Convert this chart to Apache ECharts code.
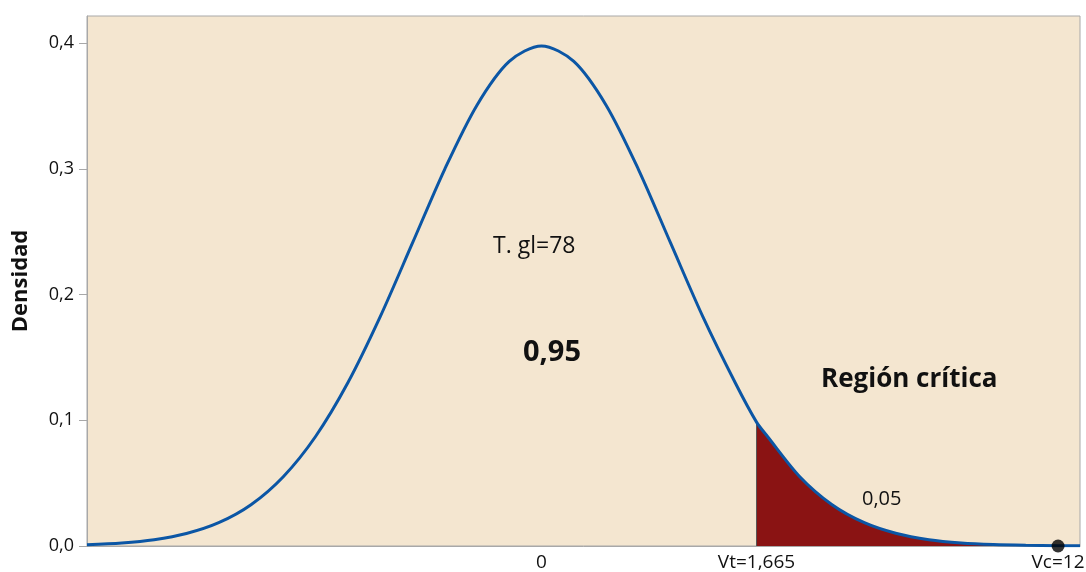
<!DOCTYPE html>
<html>
<head>
<meta charset="UTF-8">
<title>Densidad T gl=78</title>
<script src="https://cdn.jsdelivr.net/npm/echarts@6/dist/echarts.min.js"></script>
<style>
body,html{ padding:0px; margin:0px; background:#fff;}
#chart_box{ width:1086px; height:572px; }
</style>
</head>
<body>
<div id="chart_box"></div>
<script type="text/javascript">
// valores (x, densidad)
var xs = [-3.52, -3.25, -3.0, -2.75, -2.5, -2.25, -2.0, -1.75, -1.5, -1.25, -1.0, -0.75, -0.5, -0.25,
          0, 0.25, 0.5, 0.75, 1.0, 1.25, 1.5, 1.665, 1.75, 2.0, 2.25, 2.5, 2.75, 3.0, 3.25, 3.5, 3.75, 4.0, 4.17];
var dens = [0.0010, 0.0024, 0.0050, 0.0099, 0.0185, 0.0328, 0.0551, 0.0871, 0.1298, 0.1822, 0.2408, 0.2996, 0.3506, 0.3854,
            0.3977, 0.3854, 0.3506, 0.2996, 0.2408, 0.1822, 0.1298, 0.0985, 0.0871, 0.0551, 0.0328, 0.0185, 0.0099, 0.0050, 0.0024, 0.0011, 0.0005, 0.0002, 0.0001];
var vt = 1.665;
var vcPos = 4.0;   // posicion del punto Vc en el eje
var xTicks = [0, 1.665, 4.0];
var xTickLabels = ['0', 'Vt=1,665', 'Vc=12'];
var yTicks = [0, 0.1, 0.2, 0.3, 0.4];

var curve = [], shade = [];
for (var i = 0; i < xs.length; i++) {
    curve.push([xs[i], dens[i]]);
    if (xs[i] >= vt) shade.push([xs[i], dens[i]]);
}
var vtDens = dens[xs.indexOf(vt)];

var myChart = echarts.init(document.getElementById('chart_box'));
var font = '"Open Sans", "Noto Sans", sans-serif';

var option = {
    animation: false,
    textStyle: { fontFamily: font },
    grid: {
        left: 87, right: 6, top: 16, bottom: 26,
        outerBoundsMode: 'none',
        show: true,
        backgroundColor: '#f4e6d0',
        borderColor: '#a8a8a8',
        borderWidth: 1
    },
    xAxis: {
        type: 'value',
        min: -3.52, max: 4.17,
        splitLine: { show: false },
        axisLine: { lineStyle: { color: '#a8a8a8', width: 1 } },
        axisTick: { show: false },
        axisLabel: {
            customValues: xTicks,
            color: '#111', fontSize: 19, margin: 7, fontFamily: font,
            formatter: function (v) {
                var k = xTicks.indexOf(v);
                return k >= 0 ? xTickLabels[k] : '';
            }
        }
    },
    yAxis: {
        type: 'value',
        min: 0, max: 0.4215,
        name: 'Densidad',
        nameLocation: 'middle',
        nameGap: 55,
        nameTextStyle: { fontSize: 22, fontWeight: 'bold', color: '#111', fontFamily: font },
        splitLine: { show: false },
        axisLine: { show: true, onZero: false, lineStyle: { color: '#a8a8a8' } },
        axisTick: { customValues: yTicks, length: 8, lineStyle: { color: '#a8a8a8' } },
        axisLabel: {
            customValues: yTicks,
            color: '#111', fontSize: 18, margin: 13, fontFamily: font,
            formatter: function (v) { return v.toFixed(1).replace('.', ','); }
        }
    },
    series: [
        {
            name: 'region',
            type: 'line',
            data: shade,
            smooth: 0.3,
            symbol: 'none',
            lineStyle: { width: 0 },
            areaStyle: { color: '#8a1313', opacity: 1 },
            z: 1
        },
        {
            name: 'vt',
            type: 'line',
            data: [[vt, 0], [vt, vtDens]],
            symbol: 'none',
            lineStyle: { color: '#555', width: 1 },
            z: 2
        },
        {
            name: 'densidad',
            type: 'line',
            data: curve,
            smooth: 0.3,
            symbol: 'none',
            lineStyle: { color: '#0b56a5', width: 3 },
            z: 3
        },
        {
            name: 'vc',
            type: 'scatter',
            data: [[vcPos, 0]],
            symbolSize: 13,
            itemStyle: { color: '#000' },
            z: 4
        }
    ],
    graphic: [
        { type: 'text', x: 493, y: 246, style: { text: 'T. gl=78', font: '23px ' + font, fill: '#111', verticalAlign: 'middle' } },
        { type: 'text', x: 523, y: 353, style: { text: '0,95', font: 'bold 29px ' + font, fill: '#111', verticalAlign: 'middle' } },
        { type: 'text', x: 821, y: 380, style: { text: 'Región crítica', font: 'bold 26px ' + font, fill: '#111', verticalAlign: 'middle' } },
        { type: 'text', x: 862, y: 499, style: { text: '0,05', font: '20px ' + font, fill: '#111', verticalAlign: 'middle' } }
    ]
};

myChart.setOption(option);
</script>
</body>
</html>
